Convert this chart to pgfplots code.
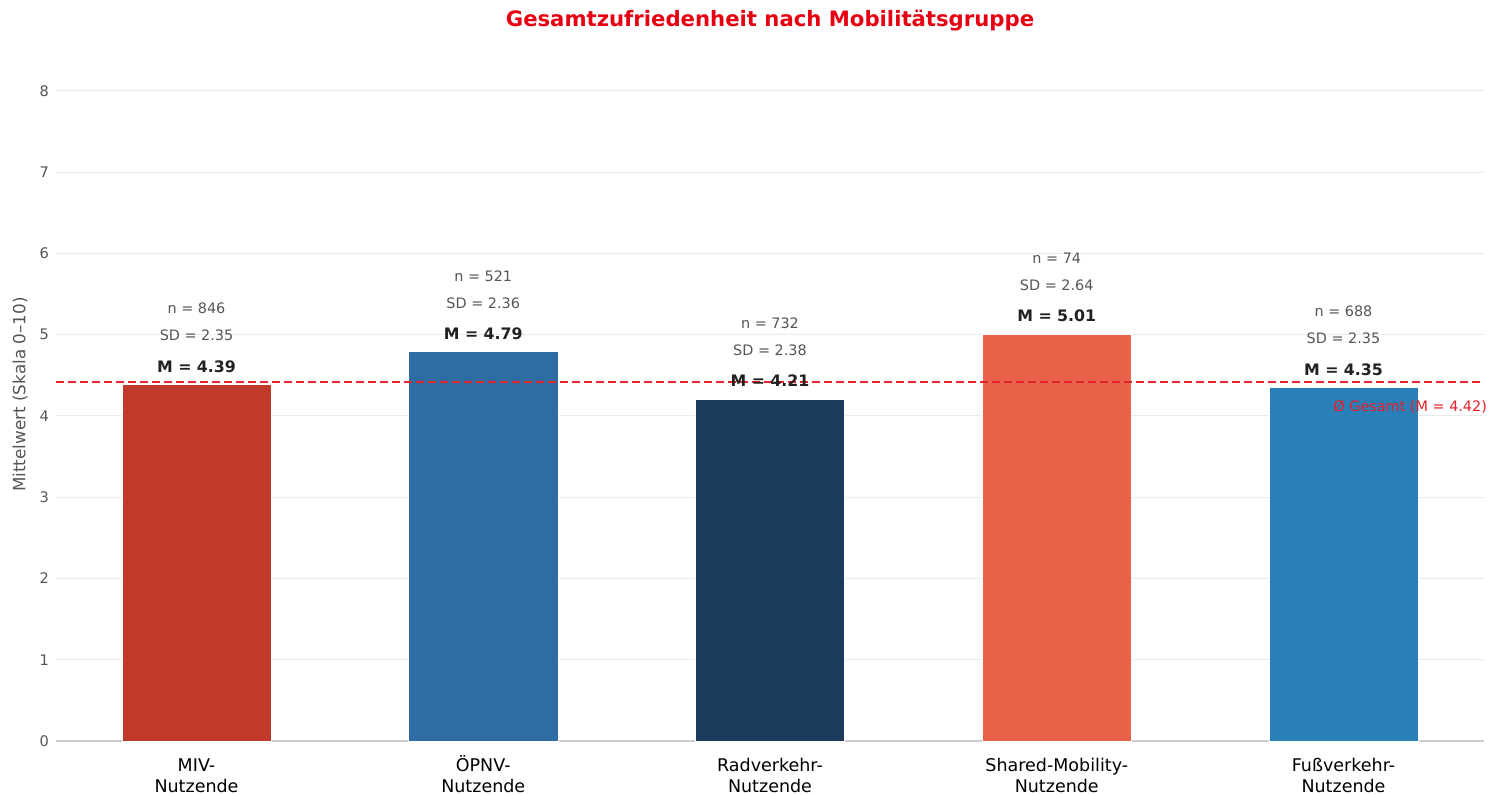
\documentclass[border=0pt]{standalone}
\usepackage{pgfplots}
\usepackage{pgfplotstable}
\usepackage{fontspec}
\setmainfont{DejaVu Sans}
\pgfplotsset{compat=1.18}
\definecolor{mivred}{RGB}{192,57,43}
\definecolor{oepnvblue}{RGB}{46,109,164}
\definecolor{radnavy}{RGB}{27,58,92}
\definecolor{sharedcoral}{RGB}{232,98,74}
\definecolor{fussblue}{RGB}{41,128,185}
\definecolor{titlered}{RGB}{230,0,18}
\definecolor{meanred}{RGB}{232,32,42}
\definecolor{ticktext}{RGB}{85,85,85}
\definecolor{gridgray}{RGB}{235,235,235}
\definecolor{baseline}{RGB}{204,204,204}

% x, mean, n, sd
\pgfplotstableread{
x y n sd
0 4.39 846 2.35
1 4.79 521 2.36
2 4.21 732 2.38
3 5.01 74 2.64
4 4.35 688 2.35
}\groups

\newcommand{\up}{\rule{0pt}{9pt}}

\begin{document}
\begin{tikzpicture}
\begin{axis}[
    name=ax,
    scale only axis,
    width=714pt,
    height=349.4pt,
    xmin=-0.49, xmax=4.49,
    ymin=0, ymax=8.6,
    ytick={0,1,...,8},
    xtick={0,1,2,3,4},
    xticklabels={{\up MIV-\\Nutzende},{\up ÖPNV-\\Nutzende},{\up Radverkehr-\\Nutzende},{\up Shared-Mobility-\\Nutzende},{\up Fußverkehr-\\Nutzende}},
    xticklabel style={align=center, font=\fontsize{8.75}{10.5}\selectfont, text=black, yshift=-2.5pt},
    yticklabel style={font=\fontsize{7.3}{8.5}\selectfont, text=ticktext},
    /pgf/number format/assume math mode=true,
    major tick length=0pt,
    axis x line*=bottom,
    axis y line*=left,
    y axis line style={draw=none},
    x axis line style={draw=baseline, line width=0.6pt, -},
    ymajorgrids,
    grid style={draw=gridgray, line width=0.5pt},
    clip=false,
]
\addplot[ybar, bar width=0.52, bar shift=0pt, fill=mivred, draw=white, line width=0.3pt] coordinates {(0,4.39)};
\addplot[ybar, bar width=0.52, bar shift=0pt, fill=oepnvblue, draw=white, line width=0.3pt] coordinates {(1,4.79)};
\addplot[ybar, bar width=0.52, bar shift=0pt, fill=radnavy, draw=white, line width=0.3pt] coordinates {(2,4.21)};
\addplot[ybar, bar width=0.52, bar shift=0pt, fill=sharedcoral, draw=white, line width=0.3pt] coordinates {(3,5.01)};
\addplot[ybar, bar width=0.52, bar shift=0pt, fill=fussblue, draw=white, line width=0.3pt] coordinates {(4,4.35)};

% annotations above the bars
\addplot[draw=none, mark=none, point meta=explicit symbolic,
    nodes near coords={n = \pgfplotspointmeta},
    every node near coord/.append style={anchor=center, yshift=38pt, text=ticktext, font=\fontsize{7.2}{8.5}\selectfont}]
    table[x=x, y=y, meta=n] {\groups};
\addplot[draw=none, mark=none, point meta=explicit symbolic,
    nodes near coords={SD = \pgfplotspointmeta},
    every node near coord/.append style={anchor=center, yshift=24.5pt, text=ticktext, font=\fontsize{7.2}{8.5}\selectfont}]
    table[x=x, y=y, meta=sd] {\groups};
\addplot[draw=none, mark=none, point meta=explicit symbolic,
    nodes near coords={M = \pgfplotspointmeta},
    every node near coord/.append style={anchor=center, yshift=9pt, text=black!87, font=\bfseries\fontsize{7.9}{9.5}\selectfont}]
    table[x=x, y=y, meta=y] {\groups};

% overall mean
\addplot[meanred, line width=1pt, dash pattern=on 4pt off 2pt] coordinates {(-0.49,4.42) (4.49,4.42)};
\node[anchor=east, text=meanred, font=\fontsize{7.2}{8.5}\selectfont, xshift=5pt, yshift=-12.5pt] at (axis cs:4.49,4.42) {Ø Gesamt (M = 4.42)};
\end{axis}
\node[font=\bfseries\fontsize{10.6}{12.5}\selectfont, text=titlered] at ([yshift=11pt]ax.north) {Gesamtzufriedenheit nach Mobilitätsgruppe};
\node[rotate=90, font=\fontsize{8.4}{10}\selectfont, text=ticktext] at ([xshift=-18pt,yshift=-1.5pt]ax.west) {Mittelwert (Skala 0–10)};
\pgfresetboundingbox
\path[use as bounding box] ([xshift=-28pt,yshift=-27pt]ax.south west) rectangle ([xshift=10.5pt,yshift=21.1pt]ax.north east);
\end{tikzpicture}
\end{document}
